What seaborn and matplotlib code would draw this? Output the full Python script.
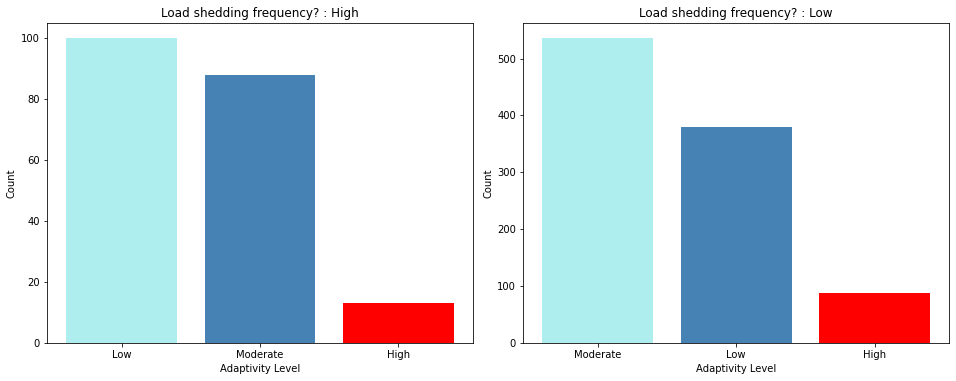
import pandas as pd
import matplotlib.pyplot as plt
import seaborn as sns

# counts of adaptivity level per load shedding group
high_levels = ["Low", "Moderate", "High"]
high_counts = [100, 88, 13]

low_levels = ["Moderate", "Low", "High"]
low_counts = [536, 380, 87]

bar_colors = ["paleturquoise", "steelblue", "red"]

panels = [
    ("High", high_levels, high_counts),
    ("Low", low_levels, low_counts),
]

fig, axes = plt.subplots(1, 2, figsize=(956 / 72, 381 / 72), dpi=72)

for ax, (group, levels, counts) in zip(axes, panels):
    df = pd.DataFrame({"Adaptivity Level": levels, "Count": counts})
    sns.barplot(
        data=df, x="Adaptivity Level", y="Count", hue="Adaptivity Level",
        palette=bar_colors, saturation=1, legend=False, ax=ax, width=0.8,
    )
    # same padding as a plain matplotlib bar chart
    ax.set_xlim(-0.54, len(levels) - 1 + 0.54)
    ax.set_title(f"Load shedding frequency? : {group}")
    ax.set_xlabel("Adaptivity Level")
    ax.set_ylabel("Count")

plt.subplots_adjust(left=0.049, right=0.993, top=0.94, bottom=0.10, wspace=0.117)
plt.savefig("out.png", dpi=72)
